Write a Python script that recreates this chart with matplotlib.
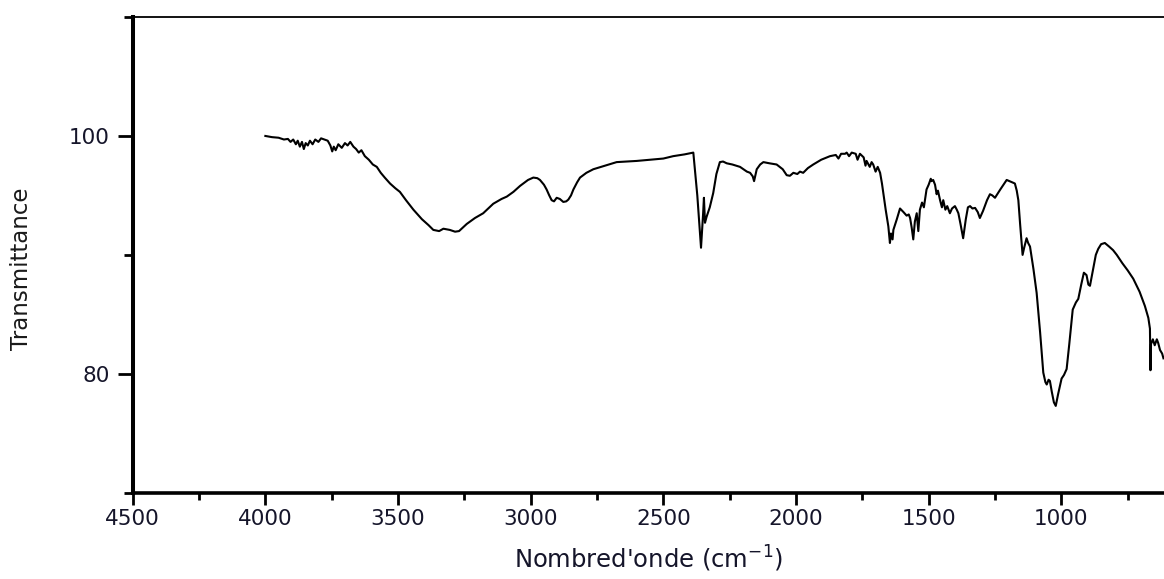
"""
Spectre IR (transmittance vs nombre d'onde)
"""
import numpy as np
import matplotlib
matplotlib.use("Agg")
import matplotlib.pyplot as plt
from matplotlib.ticker import MultipleLocator

wavenumber = [
    4000, 3975, 3950, 3930, 3915, 3905, 3895, 3885, 3878, 3870, 3862, 3855, 3848,
    3840, 3832, 3822, 3812, 3800, 3790, 3778, 3765, 3755, 3748, 3742, 3735, 3725,
    3712, 3700, 3690, 3680, 3668, 3658, 3648, 3638, 3625, 3610, 3595, 3580, 3565,
    3550, 3530, 3510, 3493, 3470, 3442, 3410, 3385, 3367, 3345, 3329, 3305, 3285,
    3270, 3241, 3210, 3179, 3141, 3110, 3090, 3065, 3040, 3010, 2990, 2975, 2965,
    2950, 2940, 2930, 2921, 2912, 2902, 2890, 2877, 2866, 2858, 2848, 2839, 2825,
    2814, 2790, 2764, 2720, 2676, 2600, 2550, 2500, 2463, 2420, 2387, 2372, 2358,
    2350, 2347, 2343, 2337, 2325, 2312, 2300, 2287, 2275, 2261, 2240, 2211, 2185,
    2173, 2163, 2158, 2152, 2148, 2135, 2123, 2100, 2073, 2050, 2035, 2023, 2010,
    1995, 1985, 1973, 1955, 1935, 1905, 1872, 1850, 1840, 1830, 1815, 1809, 1800,
    1790, 1775, 1768, 1759, 1745, 1738, 1734, 1722, 1715, 1709, 1700, 1692, 1683,
    1676, 1671, 1662, 1652, 1646, 1642, 1636, 1633, 1620, 1608, 1595, 1583, 1575,
    1570, 1564, 1558, 1552, 1545, 1539, 1533, 1525, 1518, 1508, 1500, 1492, 1489,
    1483, 1476, 1470, 1465, 1457, 1450, 1445, 1437, 1430, 1420, 1412, 1401, 1394,
    1388, 1380, 1370, 1360, 1352, 1344, 1335, 1325, 1315, 1307, 1295, 1280, 1269,
    1260, 1250, 1230, 1215, 1206, 1195, 1185, 1175, 1168, 1162, 1155, 1146, 1140,
    1131, 1125, 1118, 1105, 1093, 1080, 1068, 1060, 1055, 1048, 1043, 1036, 1028,
    1021, 1012, 999, 990, 980, 970, 957, 945, 936, 925, 915, 905, 898, 892, 880,
    870, 861, 850, 836, 820, 805, 791, 770, 750, 729, 705, 685, 672, 666, 664, 662,
    655, 648, 640, 635, 628, 620, 615,
]
transmittance = [
    100.0, 99.9, 99.85, 99.7, 99.75, 99.5, 99.7, 99.3, 99.6, 99.1, 99.5, 98.9, 99.4,
    99.2, 99.6, 99.3, 99.7, 99.5, 99.8, 99.7, 99.6, 99.2, 98.7, 99.1, 98.8, 99.3,
    99.0, 99.4, 99.2, 99.5, 99.1, 98.9, 98.6, 98.8, 98.3, 98.0, 97.6, 97.4, 96.9,
    96.5, 96.0, 95.6, 95.3, 94.6, 93.8, 93.0, 92.5, 92.1, 92.0, 92.2, 92.1, 91.95,
    92.0, 92.6, 93.1, 93.5, 94.3, 94.7, 94.9, 95.3, 95.8, 96.3, 96.5, 96.45, 96.3,
    95.9, 95.5, 95.0, 94.6, 94.5, 94.8, 94.7, 94.45, 94.5, 94.65, 95.0, 95.5, 96.1,
    96.5, 96.9, 97.2, 97.5, 97.8, 97.9, 98.0, 98.1, 98.3, 98.45, 98.6, 95.0, 90.6,
    93.5, 94.8, 92.7, 93.2, 94.0, 95.2, 96.8, 97.8, 97.85, 97.7, 97.6, 97.4, 97.0,
    96.9, 96.6, 96.2, 96.8, 97.2, 97.6, 97.8, 97.7, 97.6, 97.2, 96.7, 96.65, 96.9,
    96.8, 97.0, 96.9, 97.3, 97.6, 98.0, 98.3, 98.4, 98.1, 98.5, 98.5, 98.6, 98.3,
    98.6, 98.5, 98.0, 98.5, 98.2, 97.5, 97.9, 97.4, 97.8, 97.6, 97.0, 97.4, 96.9,
    96.0, 95.2, 93.8, 92.4, 91.0, 91.8, 91.3, 92.1, 93.0, 93.9, 93.6, 93.3, 93.4,
    93.1, 92.3, 91.3, 92.8, 93.5, 92.0, 93.8, 94.4, 94.0, 95.5, 95.9, 96.4, 96.2,
    96.3, 95.9, 95.1, 95.4, 94.6, 94.0, 94.6, 93.8, 94.1, 93.5, 93.9, 94.1, 93.8,
    93.5, 92.6, 91.4, 93.0, 94.0, 94.1, 93.9, 93.95, 93.6, 93.1, 93.7, 94.6, 95.1,
    95.0, 94.8, 95.5, 96.0, 96.3, 96.2, 96.1, 96.0, 95.4, 94.6, 92.5, 90.0, 90.6,
    91.4, 91.0, 90.7, 88.8, 86.8, 83.5, 80.1, 79.3, 79.1, 79.5, 79.4, 78.5, 77.6,
    77.3, 78.3, 79.6, 79.9, 80.4, 82.5, 85.4, 86.0, 86.3, 87.5, 88.5, 88.3, 87.5,
    87.4, 88.8, 90.0, 90.5, 90.9, 91.0, 90.7, 90.4, 90.0, 89.3, 88.7, 88.0, 86.9,
    85.7, 84.7, 83.8, 80.3, 82.5, 82.9, 82.4, 82.9, 82.6, 82.0, 81.7, 81.3,
]

TEXT = "#15152a"

fig = plt.figure(figsize=(11.64, 5.79), dpi=100)
ax = fig.add_axes([0.114, 0.149, 0.886, 0.8216])

ax.plot(np.array(wavenumber), np.array(transmittance), color="black", lw=1.5)

ax.set_xlim(4500, 613)
ax.set_ylim(70, 110)

ax.xaxis.set_major_locator(MultipleLocator(500))
ax.xaxis.set_minor_locator(MultipleLocator(250))
ax.yaxis.set_major_locator(MultipleLocator(20))
ax.yaxis.set_minor_locator(MultipleLocator(10))

ax.spines["right"].set_visible(False)
ax.spines["left"].set_linewidth(2.9)
ax.spines["bottom"].set_linewidth(2.6)
ax.spines["top"].set_linewidth(1.3)

ax.tick_params(axis="x", which="major", direction="out", length=8.3, width=2.0,
               pad=3.5, labelsize=15.5, labelcolor=TEXT)
ax.tick_params(axis="x", which="minor", direction="out", length=4.8, width=2.0)
ax.tick_params(axis="y", which="major", direction="out", length=11, width=2.0,
               pad=5.5, labelsize=15.5, labelcolor=TEXT)
ax.tick_params(axis="y", which="minor", direction="out", length=6.8, width=2.0)

ax.set_xlabel("Nombred'onde (cm$^{-1}$)", fontsize=17.5, color=TEXT)
ax.xaxis.set_label_coords(0.5, -0.108)
ax.set_ylabel("Transmittance", fontsize=16.5, color="#1a1a1a")
ax.yaxis.set_label_coords(-0.097, 0.47)

fig.savefig("out.png", dpi=100)
plt.close(fig)
